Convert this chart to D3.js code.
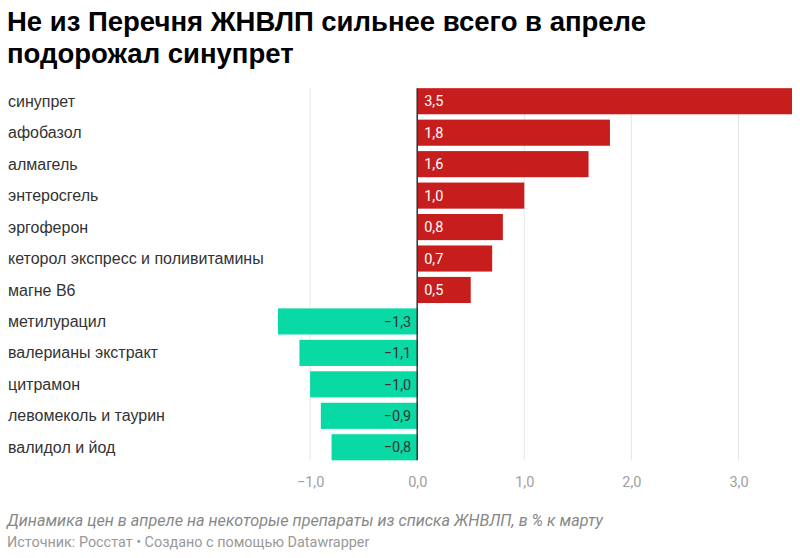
<!DOCTYPE html>
<html><head><meta charset="utf-8">
<script src="https://cdn.jsdelivr.net/npm/d3@7"></script>
<style>
body{margin:0;background:#fff;}
svg{display:block;}
</style></head><body>
<svg id="c" width="800" height="558"></svg>
<script>
const categories = ["синупрет","афобазол","алмагель","энтеросгель","эргоферон","кеторол экспресс и поливитамины","магне B6","метилурацил","валерианы экстракт","цитрамон","левомеколь и таурин","валидол и йод"];
const values = [3.5,1.8,1.6,1.0,0.8,0.7,0.5,-1.3,-1.1,-1.0,-0.9,-0.8];
const tickValues = [-1,0,1,2,3];
const titleLines = ["Не из Перечня ЖНВЛП сильнее всего в апреле","подорожал синупрет"];
const description = "Динамика цен в апреле на некоторые препараты из списка ЖНВЛП, в % к марту";
const source = "Источник: Росстат • Создано с помощью Datawrapper";

const fmt = v => (v<0?"\u2212":"") + Math.abs(v).toFixed(1).replace(".",",");
const svg = d3.select("#c");
const x = d3.scaleLinear().domain([-1.3,3.5]).range([278,792]);
const y = d3.scaleBand().domain(categories).range([85.5,463]).paddingInner(0.17).paddingOuter(0.085);

svg.append("g").selectAll("text").data(titleLines).join("text")
  .attr("x",7).attr("y",(d,i)=>31+i*32)
  .attr("font-family","Liberation Sans, Arial, sans-serif").attr("font-weight","bold")
  .attr("font-size",27.5).attr("fill","#000").text(d=>d);

// grid
const gy0 = y(categories[0]), gy1 = y(categories[categories.length-1])+y.bandwidth();
svg.append("g").selectAll("line").data(tickValues.filter(t=>t!==0)).join("line")
  .attr("x1",d=>x(d)).attr("x2",d=>x(d)).attr("y1",gy0).attr("y2",gy1)
  .attr("stroke","#e6e6e6").attr("stroke-width",1);

// axis labels
const ax = d3.axisBottom(x).tickValues(tickValues).tickFormat(fmt).tickSize(0).tickPadding(0);
const axg = svg.append("g").attr("transform",`translate(0,${gy1+22})`).call(ax);
axg.select(".domain").remove();
axg.selectAll("text").attr("font-family","Roboto, sans-serif").attr("font-size",14.5).attr("fill","#a0a0a0").attr("dy","0.32em");

// category labels
svg.append("g").selectAll("text").data(categories).join("text")
  .attr("x",8).attr("y",d=>y(d)+y.bandwidth()/2).attr("dy","0.35em")
  .attr("font-family","Liberation Sans, Arial, sans-serif").attr("font-size",16).attr("fill","#333").text(d=>d);

// bars
const data = categories.map((c,i)=>({c,v:values[i]}));
svg.append("g").selectAll("rect").data(data).join("rect")
  .attr("x",d=>x(Math.min(0,d.v))).attr("width",d=>Math.abs(x(d.v)-x(0)))
  .attr("y",d=>y(d.c)).attr("height",y.bandwidth())
  .attr("fill",d=>d.v>=0?"#c71e1d":"#09d9a5");

// value labels
svg.append("g").selectAll("text").data(data).join("text")
  .attr("x",d=>d.v>=0?x(0)+7:x(0)-6).attr("text-anchor",d=>d.v>=0?"start":"end")
  .attr("y",d=>y(d.c)+y.bandwidth()/2).attr("dy","0.36em")
  .attr("font-family","Roboto, sans-serif").attr("font-size",14.5)
  .attr("fill",d=>d.v>=0?"#fff":"#333").text(d=>fmt(d.v));

// zero line
svg.append("line").attr("x1",x(0)).attr("x2",x(0)).attr("y1",gy0).attr("y2",gy1)
  .attr("stroke","#333").attr("stroke-width",1.5);

svg.append("text").attr("x",7).attr("y",526).attr("font-family","Roboto, sans-serif")
  .attr("font-style","italic").attr("font-size",16.2).attr("fill","#888").text(description);
svg.append("text").attr("x",7).attr("y",547).attr("font-family","Roboto, sans-serif")
  .attr("font-size",14.4).attr("fill","#999").text(source);
</script></body></html>
